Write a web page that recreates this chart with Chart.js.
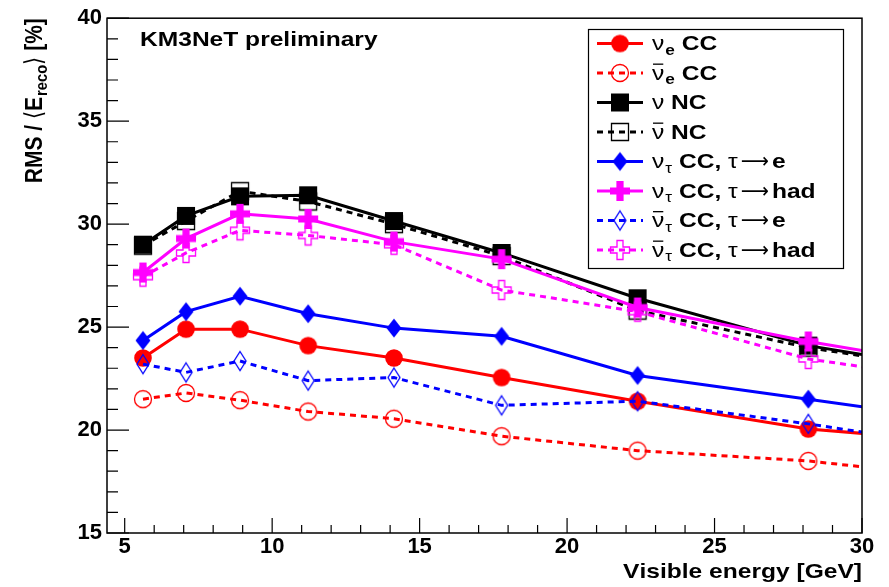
<!DOCTYPE html>
<html>
<head>
<meta charset="utf-8">
<script src="https://cdn.jsdelivr.net/npm/chart.js@4.4.1/dist/chart.umd.min.js"></script>
<style>
html, body { margin: 0; padding: 0; background: #fff; }
#wrap { width: 889px; height: 587px; }
</style>
</head>
<body>
<div id="wrap"><canvas id="chart" width="889" height="587"></canvas></div>
<script>
// bin centres (log spaced), last one lies past the axis end so the lines run to the frame
const energy = [5.62, 7.08, 8.91, 11.22, 14.13, 17.78, 22.39, 28.18, 35.48];

const nueCC       = [23.5, 24.9, 24.9, 24.1, 23.5, 22.55, 21.4, 20.05, 19.2];
const nuebarCC    = [21.5, 21.8, 21.45, 20.9, 20.55, 19.7, 19.0, 18.5, 17.35];
const nuNC        = [29.0, 30.4, 31.35, 31.4, 30.15, 28.6, 26.4, 24.1, 22.35];
const nubarNC     = [28.95, 30.15, 31.6, 31.1, 30.0, 28.45, 25.8, 24.0, 22.4];
const nutauE      = [24.35, 25.75, 26.5, 25.65, 24.95, 24.55, 22.65, 21.5, 20.0];
const nutauHad    = [27.65, 29.3, 30.5, 30.25, 29.15, 28.3, 25.95, 24.3, 22.55];
const nutaubarE   = [23.2, 22.8, 23.35, 22.4, 22.55, 21.2, 21.4, 20.3, 18.7];
const nutaubarHad = [27.45, 28.6, 29.7, 29.45, 29.0, 26.8, 25.75, 23.45, 21.95];

const legendLabels = [
    'ν_{e} CC',
    '#bar{ν}_{e} CC',
    'ν NC',
    '#bar{ν} NC',
    'ν_{τ} CC, τ⟶e',
    'ν_{τ} CC, τ⟶had',
    '#bar{ν}_{τ} CC, τ⟶e',
    '#bar{ν}_{τ} CC, τ⟶had'
];

const xTicks = [5, 10, 15, 20, 25, 30];
const yTicks = [15, 20, 25, 30, 35, 40];

const FONT = '"Liberation Sans", Arial, Helvetica, "DejaVu Sans", sans-serif';
const HS = 1.17; // text in the original is a bit wider than Helvetica

function marker(kind, filled, color) {
    const c = document.createElement('canvas');
    c.width = 26;
    c.height = 26;
    const g = c.getContext('2d');
    g.fillStyle = color;
    g.strokeStyle = color;
    g.lineWidth = 1.3;
    g.translate(13, 13);
    g.beginPath();
    if (kind === 'circle') {
        g.arc(0, 0, filled ? 8.8 : 8.5, 0, Math.PI * 2);
    } else if (kind === 'square') {
        if (filled) g.rect(-9, -9, 18, 18); else g.rect(-8.5, -8.5, 17, 17);
    } else if (kind === 'diamond') {
        const w = filled ? 7.5 : 6;
        g.moveTo(0, -9.5); g.lineTo(w, 0); g.lineTo(0, 9.5); g.lineTo(-w, 0); g.closePath();
    } else if (kind === 'cross') {
        const a = filled ? 10 : 9.5, b = filled ? 3.6 : 3;
        g.moveTo(-b, -a); g.lineTo(b, -a); g.lineTo(b, -b); g.lineTo(a, -b);
        g.lineTo(a, b); g.lineTo(b, b); g.lineTo(b, a); g.lineTo(-b, a);
        g.lineTo(-b, b); g.lineTo(-a, b); g.lineTo(-a, -b); g.lineTo(-b, -b);
        g.closePath();
    }
    if (filled) g.fill(); else g.stroke();
    return c;
}

const series = [
    {data: nueCC, color: '#ff0000', dash: false, m: marker('circle', true, '#ff0000')},
    {data: nuebarCC, color: '#ff0000', dash: true, m: marker('circle', false, '#ff0000')},
    {data: nuNC, color: '#000000', dash: false, m: marker('square', true, '#000000')},
    {data: nubarNC, color: '#000000', dash: true, m: marker('square', false, '#000000')},
    {data: nutauE, color: '#0000ff', dash: false, m: marker('diamond', true, '#0000ff')},
    {data: nutauHad, color: '#ff00ff', dash: false, m: marker('cross', true, '#ff00ff')},
    {data: nutaubarE, color: '#0000ff', dash: true, m: marker('diamond', false, '#0000ff')},
    {data: nutaubarHad, color: '#ff00ff', dash: true, m: marker('cross', false, '#ff00ff')}
];

const DASH = [6, 5];
const SYMBOLS = 'ντ→⟶⟨⟩';

// tiny TLatex-like text: _{sub} and #bar{x}
function drawRich(ctx, str, x, y, size, hs, dry) {
    const re = /#bar\{([^}]*)\}|_\{([^}]*)\}|(.)/gu;
    let cx = x, m;
    const put = (txt, px, py, sz) => {
        let w = 0;
        for (const ch of txt) {
            const weight = SYMBOLS.includes(ch) ? 'normal' : 'bold';
            const arrow = ch === '⟶';
            const k = arrow ? hs * 0.8 : hs;
            const pad = arrow ? 3 : 0;
            ctx.font = `${weight} ${sz}px ${FONT}`;
            const cw = ctx.measureText(ch).width * k;
            if (!dry) {
                ctx.save();
                ctx.translate(px + w + pad, py);
                ctx.scale(k, 1);
                ctx.fillText(ch, 0, 0);
                ctx.restore();
            }
            w += cw + 2 * pad;
        }
        return w;
    };
    while ((m = re.exec(str))) {
        if (m[1] !== undefined) {
            const w = put(m[1], cx, y, size);
            if (!dry) {
                ctx.save();
                ctx.lineWidth = 1.3;
                ctx.beginPath();
                ctx.moveTo(cx + 1, y - size * 0.73);
                ctx.lineTo(cx + w - 1, y - size * 0.73);
                ctx.stroke();
                ctx.restore();
            }
            cx += w;
        } else if (m[2] !== undefined) {
            cx += put(m[2], cx + 1, y + size * 0.22, size * 0.7) + 1;
        } else {
            cx += put(m[3], cx, y, size);
        }
    }
    return cx - x;
}

const framePlugin = {
    id: 'frame',
    afterDatasetsDraw(chart) {
        const {ctx, chartArea: a, scales} = chart;
        ctx.save();
        ctx.strokeStyle = '#000';
        ctx.lineWidth = 1.5;
        ctx.strokeRect(a.left, a.top, a.right - a.left, a.bottom - a.top);
        ctx.lineWidth = 1.2;
        ctx.beginPath();
        for (let v = 15; v <= 40; v++) {
            const y = scales.y.getPixelForValue(v);
            const len = yTicks.includes(v) ? 22 : 11;
            ctx.moveTo(a.left, y);
            ctx.lineTo(a.left + len, y);
        }
        for (let v = 5; v <= 30; v++) {
            const x = scales.x.getPixelForValue(v);
            const len = xTicks.includes(v) ? 15 : 8;
            ctx.moveTo(x, a.bottom);
            ctx.lineTo(x, a.bottom - len);
        }
        ctx.stroke();
        ctx.restore();
    },
    afterDraw(chart) {
        const {ctx, chartArea: a} = chart;
        ctx.save();
        ctx.fillStyle = '#000';
        ctx.textBaseline = 'alphabetic';

        // label in the top left
        drawRich(ctx, 'KM3NeT preliminary', 140, 46, 21, HS);

        // x title, right aligned to the frame
        const xt = 'Visible energy [GeV]';
        const xw = drawRich(ctx, xt, 0, 0, 21, HS, true);
        drawRich(ctx, xt, a.right - xw, 578, 21, HS);

        // y title, rotated, ending at the top of the frame
        const yt = 'RMS / ⟨E_{reco}⟩ [%]';
        const yw = drawRich(ctx, yt, 0, 0, 21, 1, true);
        ctx.save();
        ctx.translate(42, a.top);
        ctx.rotate(-Math.PI / 2);
        ctx.scale(1, HS);
        drawRich(ctx, yt, -yw, 0, 21, 1);
        ctx.restore();

        // legend box
        const bx = 588.5, by = 29.5, bw = 255, bh = 239;
        ctx.fillStyle = '#fff';
        ctx.fillRect(bx, by, bw, bh);
        ctx.strokeStyle = '#000';
        ctx.lineWidth = 1.2;
        ctx.strokeRect(bx, by, bw, bh);
        series.forEach((s, i) => {
            const cy = 43.5 + i * 29.5;
            ctx.save();
            ctx.strokeStyle = s.color;
            ctx.lineWidth = 3;
            ctx.setLineDash(s.dash ? DASH : []);
            ctx.beginPath();
            ctx.moveTo(597, cy);
            ctx.lineTo(643, cy);
            ctx.stroke();
            ctx.restore();
            ctx.drawImage(s.m, 620 - 13, cy - 13);
            ctx.fillStyle = '#000';
            drawRich(ctx, legendLabels[i], 652, cy + 6.5, 21, HS);
        });
        ctx.restore();
    }
};

const tickFont = {family: FONT, size: 22, weight: 'bold'};

new Chart(document.getElementById('chart'), {
    type: 'line',
    data: {
        datasets: series.map((s, i) => ({
            label: legendLabels[i],
            data: energy.map((x, j) => ({x: x, y: s.data[j]})),
            borderColor: s.color,
            backgroundColor: s.color,
            borderWidth: 3,
            borderDash: s.dash ? DASH : [],
            tension: 0,
            fill: false,
            pointStyle: s.m,
            pointRadius: 9,
            order: series.length - i
        }))
    },
    options: {
        responsive: false,
        animation: false,
        events: [],
        layout: {padding: {left: 0, top: 15, right: 27, bottom: 0}},
        plugins: {
            legend: {display: false},
            tooltip: {enabled: false},
            title: {display: false}
        },
        scales: {
            x: {
                type: 'linear',
                min: 4.4,
                max: 30,
                afterBuildTicks: scale => { scale.ticks = xTicks.map(v => ({value: v})); },
                afterFit: scale => { scale.height = 54; },
                grid: {display: false, drawTicks: false},
                border: {display: false},
                ticks: {font: tickFont, color: '#000', padding: 1, maxRotation: 0, autoSkip: false}
            },
            y: {
                type: 'linear',
                min: 15,
                max: 40,
                afterBuildTicks: scale => { scale.ticks = yTicks.map(v => ({value: v})); },
                afterFit: scale => { scale.width = 107; },
                grid: {display: false, drawTicks: false},
                border: {display: false},
                ticks: {font: tickFont, color: '#000', padding: 5, autoSkip: false}
            }
        }
    },
    plugins: [framePlugin]
});
</script>
</body>
</html>
